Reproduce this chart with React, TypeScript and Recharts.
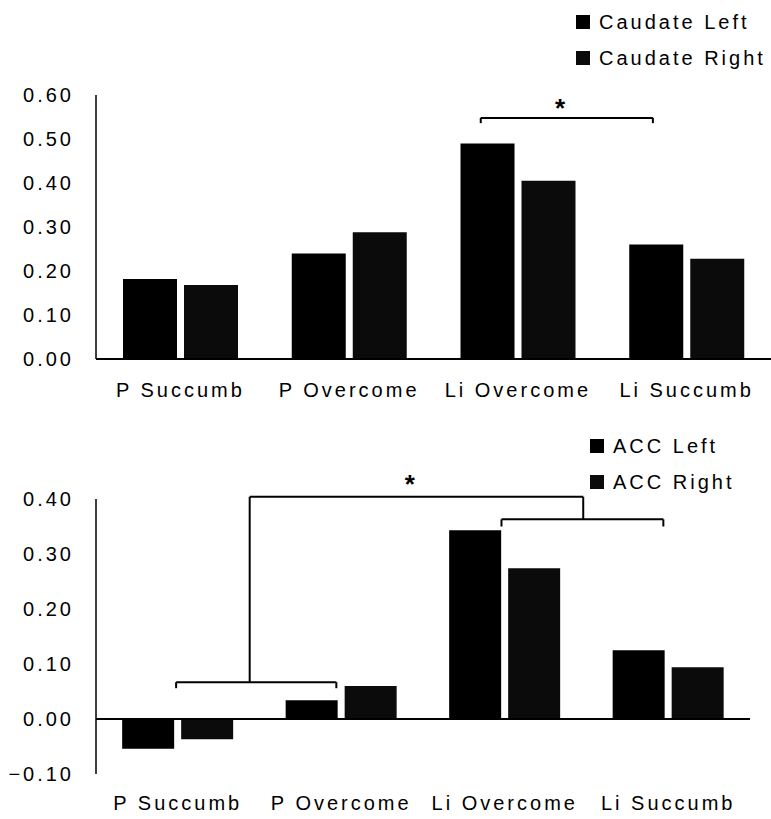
import React from "react";
import {
  BarChart,
  Bar,
  XAxis,
  YAxis,
  Legend,
  ReferenceLine,
  ReferenceDot,
} from "recharts";

const categories = ["P Succumb", "P Overcome", "Li Overcome", "Li Succumb"];

const caudateLeft = [0.182, 0.24, 0.49, 0.26];
const caudateRight = [0.168, 0.288, 0.405, 0.228];
const caudateTicks = [0, 0.1, 0.2, 0.3, 0.4, 0.5, 0.6];

const accLeft = [-0.054, 0.034, 0.343, 0.125];
const accRight = [-0.037, 0.06, 0.274, 0.094];
const accTicks = [-0.1, 0, 0.1, 0.2, 0.3, 0.4];

// significance brackets, x in category units (0..4), y in data units
const caudateBrackets = [
  [[2.28, 0.536], [2.28, 0.548], [3.3, 0.548], [3.3, 0.536]],
];
const caudateStar = { x: 2.75, y: 0.585 };

const accBrackets = [
  [[0.49, 0.056], [0.49, 0.067], [1.47, 0.067], [1.47, 0.056]],
  [[0.94, 0.067], [0.94, 0.404], [2.98, 0.404], [2.98, 0.363]],
  [[2.48, 0.35], [2.48, 0.363], [3.47, 0.363], [3.47, 0.35]],
];
const accStar = { x: 1.92, y: 0.438 };

const FONT = "'Liberation Sans', Arial, sans-serif";
const tickStyle = { fill: "#000", fontSize: 20, fontFamily: FONT, letterSpacing: 3 };

function buildRows(left: number[], right: number[]) {
  return categories.map((c, i) => ({ name: c, left: left[i], right: right[i] }));
}

const fmt = (v: number) => (v < 0 ? "\u2212" + Math.abs(v).toFixed(2) : v.toFixed(2));

function LegendBox({ payload, rowHeight }: any) {
  return (
    <div style={{ fontFamily: FONT, fontSize: 20, letterSpacing: 3, color: "#000" }}>
      {(payload || []).map((p: any) => (
        <div key={p.value} style={{ display: "flex", alignItems: "center", height: rowHeight }}>
          <span
            style={{ width: 14, height: 14, background: p.color, marginRight: 9, display: "inline-block" }}
          />
          <span>{p.value}</span>
        </div>
      ))}
    </div>
  );
}

type PanelProps = {
  rows: { name: string; left: number; right: number }[];
  names: [string, string];
  domain: [number, number];
  ticks: number[];
  brackets: number[][][];
  star: { x: number; y: number };
  height: number;
  margin: { top: number; right: number; bottom: number; left: number };
  xHeight: number;
  xTickMargin: number;
  legendPos: { left: number; top: number; rowHeight: number };
  zeroLine?: boolean;
};

function Panel(p: PanelProps) {
  return (
    <BarChart
      width={771}
      height={p.height}
      data={p.rows}
      margin={p.margin}
      barCategoryGap="16%"
      barGap={7}
    >
      <XAxis
        dataKey="name"
        tick={tickStyle}
        tickLine={false}
        tickSize={0}
        tickMargin={p.xTickMargin}
        height={p.xHeight}
        interval={0}
        axisLine={p.zeroLine ? false : { stroke: "#000", strokeWidth: 2 }}
      />
      <XAxis
        xAxisId="pos"
        dataKey="nothing"
        type="number"
        domain={[0, 4]}
        padding={{ left: 0, right: 0 }}
        hide
        allowDataOverflow
      />
      <YAxis
        width={96}
        domain={p.domain}
        ticks={p.ticks}
        interval={0}
        tick={tickStyle}
        tickLine={false}
        tickSize={0}
        tickMargin={22}
        axisLine={{ stroke: "#000", strokeWidth: 1.5 }}
        tickFormatter={fmt}
        allowDataOverflow
      />
      <Legend
        layout="vertical"
        align="center"
        verticalAlign="middle"
        content={<LegendBox rowHeight={p.legendPos.rowHeight} />}
        wrapperStyle={{ position: "absolute", left: p.legendPos.left, top: p.legendPos.top, width: "auto" }}
      />
      {p.zeroLine && <ReferenceLine y={0} stroke="#000" strokeWidth={2} />}
      <Bar dataKey="left" name={p.names[0]} fill="#000" isAnimationActive={false} />
      <Bar dataKey="right" name={p.names[1]} fill="#0b0b0b" isAnimationActive={false} />
      {p.brackets.flatMap((pts, bi) =>
        pts.slice(1).map((pt, i) => (
          <ReferenceLine
            key={`b${bi}-${i}`}
            xAxisId="pos"
            ifOverflow="visible"
            stroke="#000"
            strokeWidth={2}
            segment={[
              { x: pts[i][0], y: pts[i][1] },
              { x: pt[0], y: pt[1] },
            ]}
          />
        ))
      )}
      <ReferenceDot
        xAxisId="pos"
        x={p.star.x}
        y={p.star.y}
        r={0}
        ifOverflow="visible"
        label={{ value: "*", position: "center", fill: "#000", fontSize: 26, fontWeight: "bold", fontFamily: FONT, dy: 6 }}
      />
    </BarChart>
  );
}

export default function App() {
  return (
    <div style={{ position: "absolute", left: 0, top: 0, width: 771, height: 819, background: "#fff" }}>
      <Panel
        rows={buildRows(caudateLeft, caudateRight)}
        names={["Caudate Left", "Caudate Right"]}
        domain={[0, 0.6]}
        ticks={caudateTicks}
        brackets={caudateBrackets}
        star={caudateStar}
        height={410}
        margin={{ top: 95, right: 0, bottom: 0, left: 0 }}
        xHeight={51}
        xTickMargin={24}
        legendPos={{ left: 576, top: 4, rowHeight: 36 }}
      />
      <Panel
        rows={buildRows(accLeft, accRight)}
        names={["ACC Left", "ACC Right"]}
        domain={[-0.1, 0.4]}
        ticks={accTicks}
        brackets={accBrackets}
        star={accStar}
        height={409}
        margin={{ top: 89, right: 21, bottom: 0, left: 0 }}
        xHeight={45}
        xTickMargin={22}
        legendPos={{ left: 590, top: 18, rowHeight: 36 }}
        zeroLine
      />
    </div>
  );
}
